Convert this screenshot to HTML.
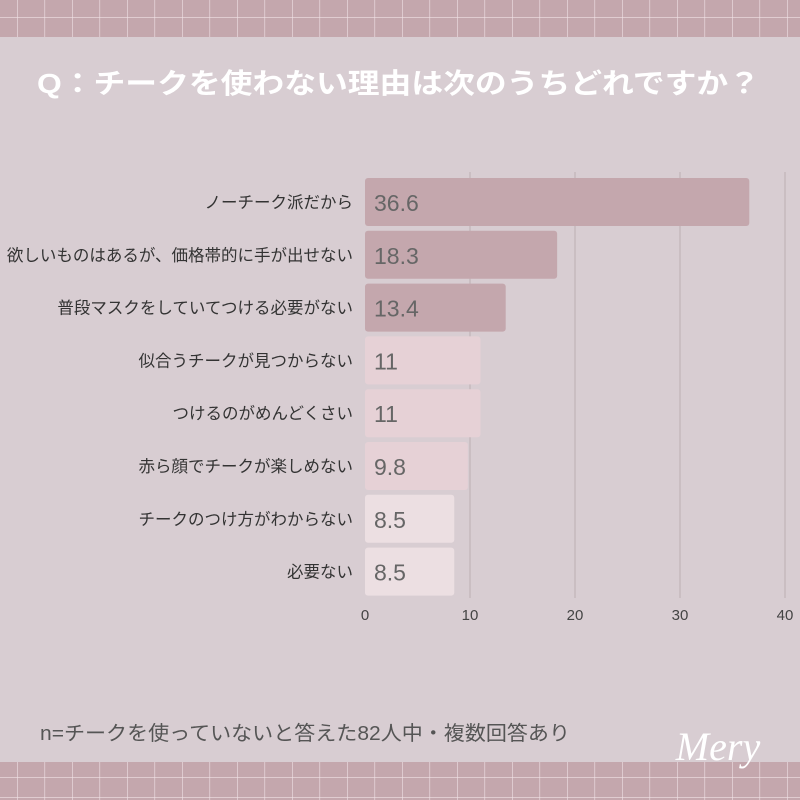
<!DOCTYPE html>
<html><head><meta charset="utf-8"><style>
body{margin:0;width:800px;height:800px;overflow:hidden;background:#d8cdd2;font-family:"Liberation Sans","Noto Sans CJK JP",sans-serif;}
svg{display:block}
</style></head><body>
<svg width="800" height="800" id="c">
<defs>
<pattern id="grid" width="27.5" height="20" patternUnits="userSpaceOnUse" x="17" y="17">
<rect width="27.5" height="20" fill="#c4a7ad"/>
<line x1="0" y1="0" x2="0" y2="20" stroke="#f0e2e6" stroke-width="1.2"/>
<line x1="0" y1="0" x2="27.5" y2="0" stroke="#f0e2e6" stroke-width="1.2"/>
</pattern>
</defs>
<rect x="0" y="0" width="800" height="37" fill="url(#grid)"/>
<rect x="0" y="762" width="800" height="38" fill="url(#grid)"/>
<text x="37" y="93" textLength="723" lengthAdjust="spacingAndGlyphs" font-size="28" font-weight="bold" fill="#ffffff">Q：チークを使わない理由は次のうちどれですか？</text>
<g id="plot"></g>
<text x="40" y="740" textLength="530" lengthAdjust="spacingAndGlyphs" font-size="20" fill="#555">n=チークを使っていないと答えた82人中・複数回答あり</text>
<text x="718" y="760" text-anchor="middle" font-size="40" font-style="italic" fill="#fff" font-family="'Liberation Serif',serif">Mery</text>
</svg>
<script>
const categories=["ノーチーク派だから","欲しいものはあるが、価格帯的に手が出せない","普段マスクをしていてつける必要がない","似合うチークが見つからない","つけるのがめんどくさい","赤ら顔でチークが楽しめない","チークのつけ方がわからない","必要ない"];
const values=[36.6,18.3,13.4,11,11,9.8,8.5,8.5];
const labels=["36.6","18.3","13.4","11","11","9.8","8.5","8.5"];
const ticks=[0,10,20,30,40];
const colors=["#c4a7ad","#c4a7ad","#c4a7ad","#e6d1d6","#e6d1d6","#e6d1d6","#ecdfe2","#ecdfe2"];
const NS="http://www.w3.org/2000/svg";
const g=document.getElementById('plot');
const x=v=>365+v*10.5;
const y=i=>178+i*52.8;
function mk(t,a){const e=document.createElementNS(NS,t);for(const k in a)e.setAttribute(k,a[k]);g.appendChild(e);return e;}
ticks.forEach(t=>{
 if(t>0){const l=mk('line',{x1:x(t),x2:x(t),y1:172,y2:598,stroke:'#bcaeb3','stroke-width':1});
 
 }
 const tx=mk('text',{x:x(t),y:620,'text-anchor':'middle','font-size':15,fill:'#444'});tx.textContent=t;
 
 
});
values.forEach((v,i)=>{
 const r=mk('rect',{x:x(0),y:y(i),width:x(v)-x(0),height:48,rx:3,fill:colors[i]});
 
 
 const vt=mk('text',{x:374,y:y(i)+33,'font-size':23,fill:'#666'});vt.textContent=labels[i];
 
 
 const ct=mk('text',{x:353,y:y(i)+30,'text-anchor':'end','font-size':16.5,fill:'#333'});ct.textContent=categories[i];
 
 
});
</script>
</body></html>
